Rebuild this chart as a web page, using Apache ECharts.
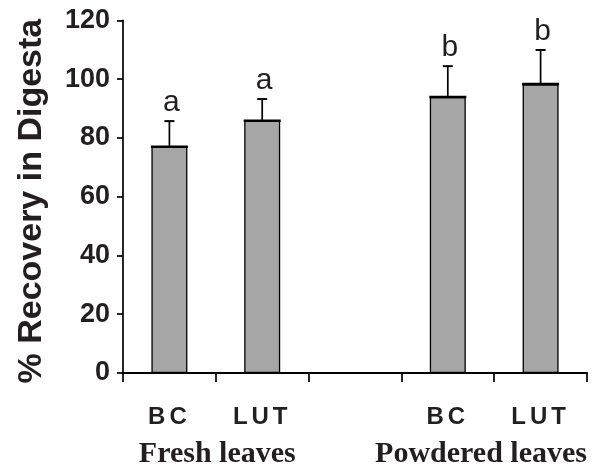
<!DOCTYPE html>
<html>
<head>
<meta charset="utf-8">
<script src="https://cdn.jsdelivr.net/npm/echarts@6/dist/echarts.min.js"></script>
<style>
html,body{margin:0;padding:0;background:#fff;}
#chart{width:592px;height:467px;}
</style>
</head>
<body>
<div id="chart"></div>
<script>
// ---- data ----
const categories = ['BC', 'LUT', '', 'BC', 'LUT'];
const means = [77.0, 85.8, null, 93.9, 98.3];
const errors = [8.7, 7.4, null, 10.5, 11.6];
const letters = ['a', 'a', '', 'b', 'b'];
const groupNames = ['Fresh leaves', 'Powdered leaves'];
const groupMembers = [[0, 1], [3, 4]];
const yMin = 0, yMax = 120, yStep = 20;
const yTitle = '% Recovery in Digesta';

const sans = '"Liberation Sans", Arial, sans-serif';
const serif = '"Liberation Serif", "Times New Roman", serif';
const ink = '#231f20';

const chart = echarts.init(document.getElementById('chart'), null, {renderer: 'canvas'});

function spaced(s) {
  return s.split('').join('\u2006') + (s ? '\u2006' : '');
}

const option = {
  animation: false,
  backgroundColor: '#fff',
  grid: {left: 123, right: 5, top: 20.3, bottom: 94, containLabel: false},
  xAxis: {
    type: 'category',
    data: categories,
    boundaryGap: true,
    axisLine: {show: true, lineStyle: {color: '#000', width: 2.2}},
    axisTick: {show: true, interval: 0, length: 9, lineStyle: {color: '#000', width: 1.7}},
    axisLabel: {
      interval: 0, margin: 32,
      formatter: v => spaced(v),
      fontFamily: sans, fontWeight: 'bold', fontSize: 24, color: ink
    },
    splitLine: {show: false}
  },
  yAxis: {
    type: 'value',
    min: yMin, max: yMax, interval: yStep,
    name: yTitle,
    nameLocation: 'middle',
    nameRotate: 90,
    nameGap: 74,
    nameTextStyle: {fontFamily: sans, fontWeight: 'bold', fontSize: 34, color: ink, padding: [0, 9, 0, 0]},
    axisLine: {show: true, lineStyle: {color: '#000', width: 1.7}},
    axisTick: {show: true, length: 6, lineStyle: {color: '#000', width: 1.7}},
    axisLabel: {margin: 13, fontFamily: sans, fontWeight: 'bold', fontSize: 27, color: ink},
    splitLine: {show: false}
  },
  series: [
    {
      type: 'bar',
      data: means,
      barWidth: 36,
      itemStyle: {color: '#a6a6a6', borderColor: '#000', borderWidth: 1.3},
      z: 2
    },
    {
      type: 'custom',
      data: means.map((m, i) => [i, m]),
      z: 5,
      renderItem: function (params, api) {
        const i = params.dataIndex;
        if (means[i] == null) return null;
        const top = api.coord([i, means[i]]);
        const hi = api.coord([i, means[i] + errors[i]]);
        const half = 18.5;
        return {
          type: 'group',
          children: [
            {type: 'line', shape: {x1: top[0], y1: top[1], x2: hi[0], y2: hi[1]},
             style: {stroke: '#000', lineWidth: 1.7}},
            {type: 'line', shape: {x1: hi[0] - 5, y1: hi[1], x2: hi[0] + 5, y2: hi[1]},
             style: {stroke: '#000', lineWidth: 2}},
            {type: 'line', shape: {x1: top[0] - half, y1: top[1], x2: top[0] + half, y2: top[1]},
             style: {stroke: '#000', lineWidth: 2.6}},
            {type: 'text', x: hi[0] + 2, y: hi[1] - 3,
             style: {text: letters[i], fill: ink, fontFamily: sans, fontSize: 30,
                     align: 'center', verticalAlign: 'bottom'}}
          ]
        };
      }
    }
  ]
};
chart.setOption(option);

// group labels under the category labels
const step = chart.convertToPixel({xAxisIndex: 0}, 1) - chart.convertToPixel({xAxisIndex: 0}, 0);
const gridRight = chart.convertToPixel({xAxisIndex: 0}, categories.length - 1) + step / 2;
const g = groupMembers.map((m, k) => {
  const a = chart.convertToPixel({xAxisIndex: 0}, m[0]);
  const b = chart.convertToPixel({xAxisIndex: 0}, m[1]);
  const center = (a + b) / 2;
  const last = k === groupMembers.length - 1;
  return {
    type: 'text',
    x: last ? gridRight : center + 1.5,
    y: 439,
    style: {
      text: groupNames[k], fill: ink, fontFamily: serif, fontWeight: 'bold', fontSize: 30,
      align: last ? 'right' : 'center', verticalAlign: 'top'
    }
  };
});
chart.setOption({graphic: g});
</script>
</body>
</html>
